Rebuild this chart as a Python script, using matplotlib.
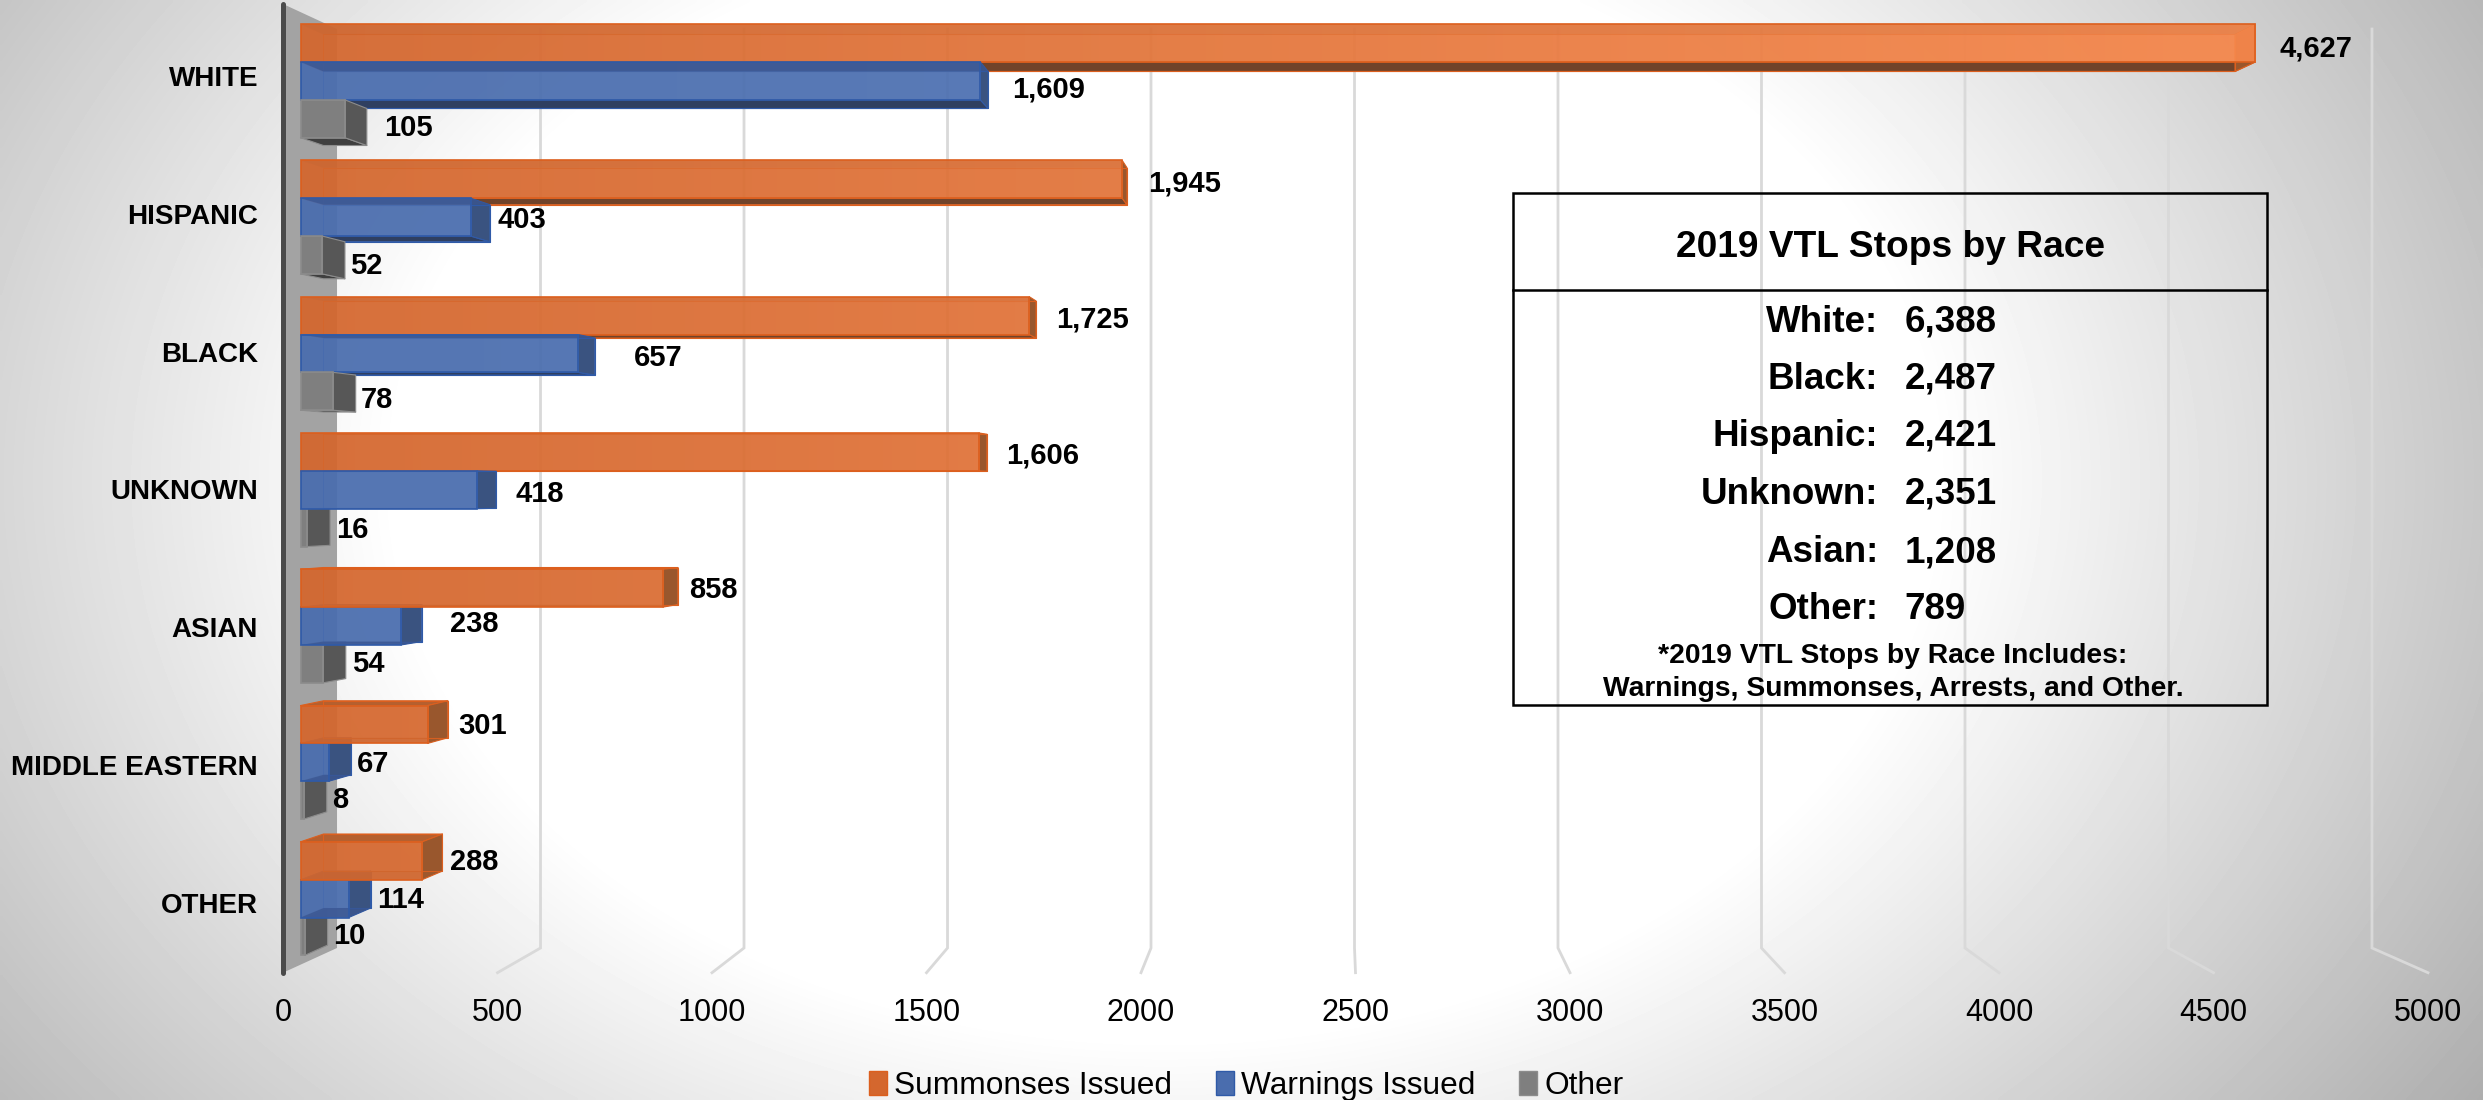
import numpy as np
import matplotlib
matplotlib.use('Agg')
import matplotlib.pyplot as plt
from matplotlib.colors import LinearSegmentedColormap
from matplotlib.patches import Polygon, Rectangle

plt.rcParams['font.family'] = ['Liberation Sans', 'DejaVu Sans']

# Data
categories = ['WHITE', 'HISPANIC', 'BLACK', 'UNKNOWN', 'ASIAN', 'MIDDLE EASTERN', 'OTHER']
summonses = [4627, 1945, 1725, 1606, 858, 301, 288]
warnings_issued = [1609, 403, 657, 418, 238, 67, 114]
other = [105, 52, 78, 16, 54, 8, 10]
series_names = ['Summonses Issued', 'Warnings Issued', 'Other']
x_ticks = [0, 500, 1000, 1500, 2000, 2500, 3000, 3500, 4000, 4500, 5000]

table_title = '2019 VTL Stops by Race'
table_labels = ['White:', 'Black:', 'Hispanic:', 'Unknown:', 'Asian:', 'Other:']
table_values = ['6,388', '2,487', '2,421', '2,351', '1,208', '789']
table_note = ['*2019 VTL Stops by Race Includes:', 'Warnings, Summonses, Arrests, and Other.']

# Layout, all in reference pixels
W, H = 2483, 1100
PLOT_L, PLOT_R, PLOT_T, PLOT_B = 283, 2428, 4, 972.7
VP_X, VP_Y = 1336, 491      # vanishing point of the fake 3d box
K_WALL, K_NEAR, K_FAR = 0.9487, 0.9848, 0.9630
BAR_H = 1 / 3.6             # gap width 60%
GAP = 0.6 / 3.6 / 2 + 0.01
BAR_DX = 3.5                # small nudge along the value axis
TEXT_DY = 2.5               # va=center sits a bit high compared to the reference

cat_label_y = [76, 214, 352, 489, 627, 765, 903]
label_px = [
    [(2280, 46), (1148, 180.5), (1056, 317), (1006, 453), (689, 587.5), (458, 724), (450, 859)],
    [(1012, 87), (498, 218), (634, 356), (515, 491), (450, 622), (357, 761), (377, 897)],
    [(384, 125), (350, 263), (361, 397.5), (336, 527), (352, 662), (332, 798), (333, 934)],
]

styles = [
    dict(low='#D4672E', high='#F98A4E', edge='#DC5F1E', side='#99572D', under='#70432A', over='#B5602F',
         band=0.15, far_line=True, alpha=0.94),
    dict(low='#4A6DAE', high='#5578B8', edge='#2F5AA8', side='#3A5380', under='#2F3F60', over='#3A5590',
         band=0.75, far_line=True, alpha=0.94),
    dict(low='#7F7F7F', high='#878787', edge='#8C8C8C', side='#575757', under='#3F3F3F', over='#6B6B6B',
         band=0.0, far_line=False, alpha=1.0),
]


def fx(x):
    return x / W


def fy(y):
    return 1 - y / H


fig = plt.figure(figsize=(W / 100, H / 100), dpi=100)

# Background, white blob in the middle going grey to the corners
bg = fig.add_axes([0, 0, 1, 1], zorder=0)
yy, xx = np.mgrid[0:H:275j, 0:W:620j]
r = np.sqrt(((xx - 1165) / 770) ** 2 + ((yy - 480) / 560) ** 2)
shade = 255 - np.clip(r - 1, 0, None) * 78
bg.imshow(shade, cmap='gray', vmin=0, vmax=255, aspect='auto', interpolation='bilinear')
bg.axis('off')

ax = fig.add_axes([fx(PLOT_L), fy(PLOT_B), (PLOT_R - PLOT_L) / W, (PLOT_B - PLOT_T) / H], zorder=1)
ax.patch.set_alpha(0)
xlim = (0, 5000)
ylim = (7, 0)
vx = (VP_X - PLOT_L) / (PLOT_R - PLOT_L) * 5000
vy = (VP_Y - PLOT_T) / (PLOT_B - PLOT_T) * 7


def px(v, k):
    return vx + k * (v - vx)


def py(c, k):
    return vy + k * (c - vy)


def quad(points, **kw):
    ax.add_patch(Polygon(points, closed=True, clip_on=False, **kw))


# Side wall + gridlines on the back plane, floor stubs to the front
quad([(px(0, 1), py(0, 1)), (px(0, K_WALL), py(0, K_WALL)),
      (px(0, K_WALL), py(7, K_WALL)), (px(0, 1), py(7, 1))],
     facecolor='#A3A3A3', edgecolor='none', zorder=2)
for t in x_ticks[1:]:
    ax.plot([px(t, K_WALL), px(t, K_WALL), px(t, 1)], [py(0, K_WALL), py(7, K_WALL), py(7, 1)],
            color='#D9D9D9', lw=2, clip_on=False, zorder=1, solid_joinstyle='miter')
ax.plot([0, 0], [0, 7], color='#4A4A4A', lw=3.6, clip_on=False, zorder=3, solid_capstyle='round')


def draw_bar(v, top, st, z):
    bottom = top + BAR_H
    n0, n1 = px(0, K_NEAR) + BAR_DX, px(v, K_NEAR) + BAR_DX
    f0, f1 = px(0, K_FAR) + BAR_DX, px(v, K_FAR) + BAR_DX
    nt, nb = py(top, K_NEAR), py(bottom, K_NEAR)
    ft, fb = py(top, K_FAR), py(bottom, K_FAR)
    ekw = dict(edgecolor=st['edge'], linewidth=0.8, joinstyle='round', zorder=z)
    # visible underside above the eye line, top side below it
    if bottom < vy:
        quad([(n0, nb), (n1, nb), (f1, fb), (f0, fb)], facecolor=st['under'], **ekw)
    if top > vy:
        quad([(n0, nt), (n1, nt), (f1, ft), (f0, ft)], facecolor=st['over'], **ekw)
    quad([(n1, nt), (f1, ft), (f1, fb), (n1, nb)], facecolor=st['side'], **ekw)
    if st['far_line']:
        quad([(f0, ft), (f1, ft), (f1, fb), (f0, fb)], facecolor='none', **ekw)
    # near face, colour follows the x position
    grad = np.linspace(n0, n1, 64).reshape(1, -1)
    cmap = LinearSegmentedColormap.from_list('face', [st['low'], st['high']])
    ax.imshow(grad, extent=[n0, n1, nb, nt], cmap=cmap, vmin=0, vmax=5000, aspect='auto',
              alpha=st['alpha'], clip_on=False, zorder=z, interpolation='bilinear')
    # inner band seen through the translucent face
    if st['band'] > 0:
        if bottom < vy:
            quad([(n0, nt), (n1, nt), (f1, ft), (f0, ft)], facecolor=st['over'], edgecolor='none',
                 alpha=st['band'], zorder=z)
        if top > vy:
            quad([(n0, nb), (n1, nb), (f1, fb), (f0, fb)], facecolor=st['over'], edgecolor='none',
                 alpha=st['band'], zorder=z)
    ax.barh((nt + nb) / 2, n1 - n0, height=nb - nt, left=n0, facecolor='none',
            edgecolor=st['edge'], linewidth=1.2, clip_on=False, zorder=z)


# painter's order, bars furthest from the eye line go first
all_series = [summonses, warnings_issued, other]
bars = []
for s, values in enumerate(all_series):
    for i, v in enumerate(values):
        top = i + GAP + s * BAR_H
        bars.append((abs(top + BAR_H / 2 - vy), v, top, s))
bars.sort(key=lambda b: -b[0])
for n, (_, v, top, s) in enumerate(bars):
    draw_bar(v, top, styles[s], 5 + n * 0.01)

# Value labels
for s, values in enumerate(all_series):
    for (x, y), v in zip(label_px[s], values):
        fig.text(fx(x), fy(y + TEXT_DY), f'{v:,}', fontsize=21, fontweight='bold', ha='left', va='center',
                 color='black', zorder=5)

# Axes text
ax.set_xlim(*xlim)
ax.set_ylim(*ylim)
ax.set_xticks(x_ticks)
ax.set_yticks([(y - PLOT_T) / (PLOT_B - PLOT_T) * 7 for y in cat_label_y])
ax.set_yticklabels(categories, fontsize=20, fontweight='bold')
ax.tick_params(axis='x', length=0, pad=18, labelsize=22)
ax.tick_params(axis='y', length=0, pad=18)
for spine in ax.spines.values():
    spine.set_visible(False)

# Summary box
fig.add_artist(Rectangle((fx(1513), fy(705)), (2267 - 1513) / W, (705 - 193) / H, transform=fig.transFigure,
                         facecolor='none', edgecolor='black', linewidth=1.8, zorder=6))
fig.add_artist(plt.Line2D([fx(1513), fx(2267)], [fy(289.5), fy(289.5)], transform=fig.transFigure,
                          color='black', linewidth=1.8, zorder=6))
fig.text(fx(1890), fy(245 + TEXT_DY), table_title, fontsize=26.7, fontweight='bold', ha='center', va='center', zorder=6)
row_y = [319.5, 377, 434, 492, 550, 607]
for y, lab, val in zip(row_y, table_labels, table_values):
    fig.text(fx(1878), fy(y + TEXT_DY), lab, fontsize=26.5, fontweight='bold', ha='right', va='center', zorder=6)
    fig.text(fx(1904.5), fy(y + TEXT_DY), val, fontsize=26.5, fontweight='bold', ha='left', va='center', zorder=6)
for y, line in zip([653.5, 687], table_note):
    fig.text(fx(1893), fy(y + TEXT_DY), line, fontsize=20.3, fontweight='bold', ha='center', va='center', zorder=6)

# Legend
handles = [Rectangle((0, 0), 1, 1, facecolor=st['low'], edgecolor=st['edge'], linewidth=1) for st in styles]
fig.legend(handles, series_names, ncols=3, loc='center', bbox_to_anchor=(fx(1246), fy(1086)),
           bbox_transform=fig.transFigure, frameon=False, fontsize=22.8, handlelength=0.58, handleheight=0.8,
           handletextpad=0.22, columnspacing=1.38, borderpad=0, borderaxespad=0)

fig.savefig('out.png', dpi=100)
